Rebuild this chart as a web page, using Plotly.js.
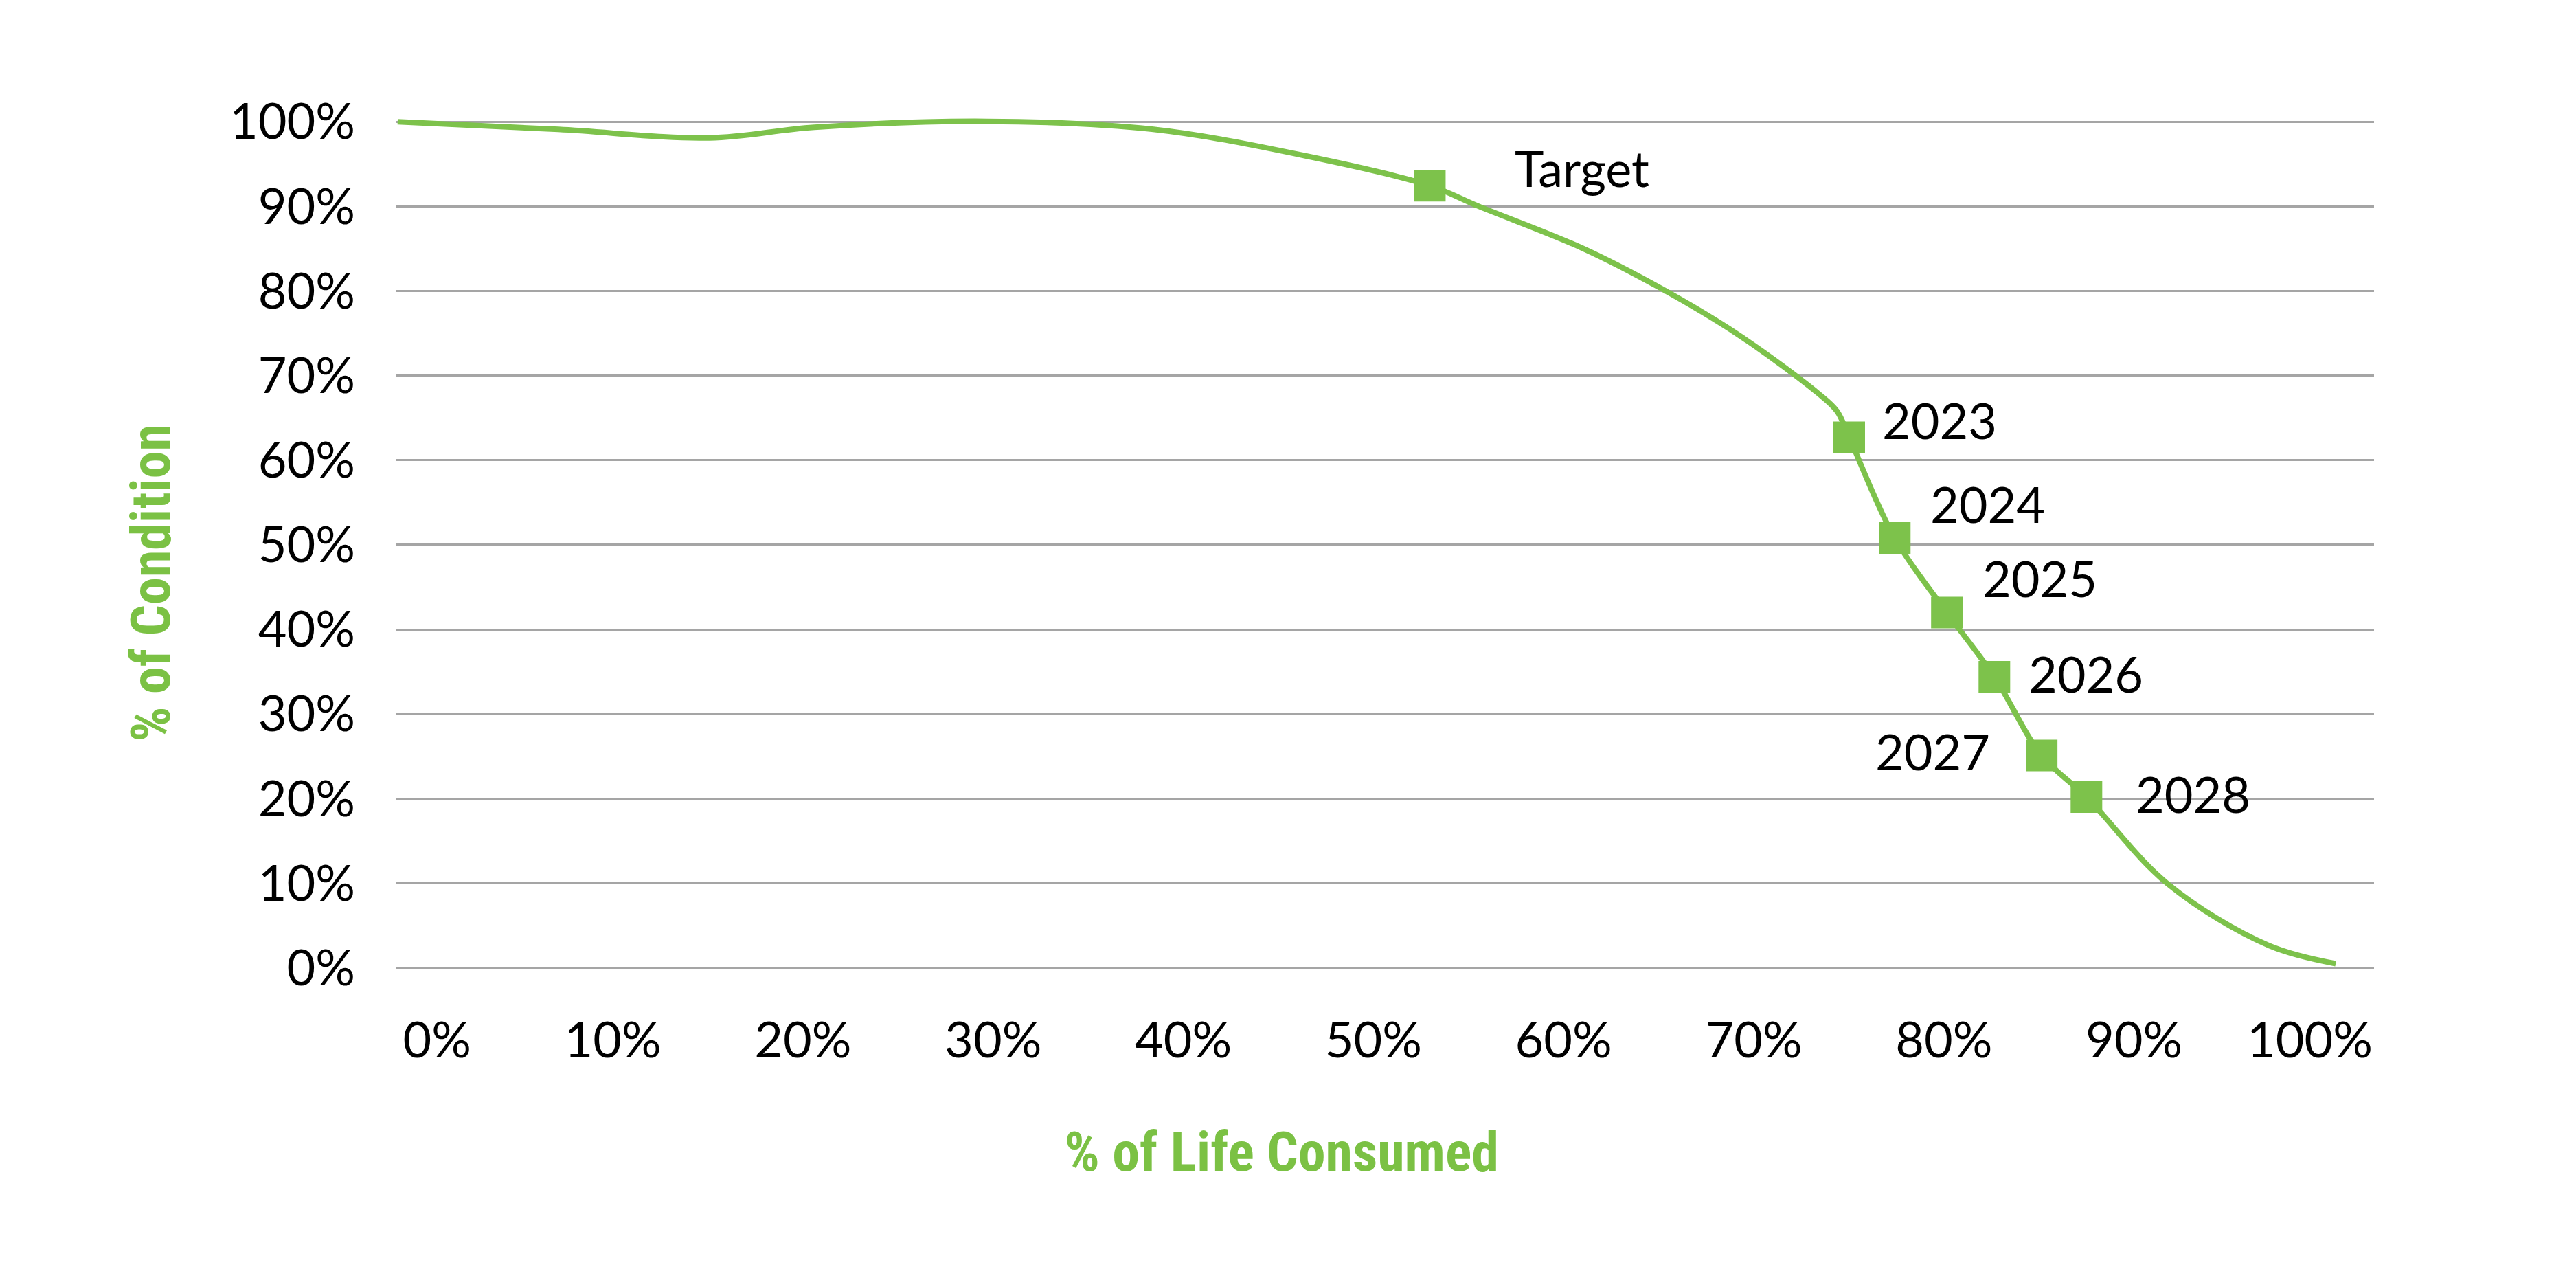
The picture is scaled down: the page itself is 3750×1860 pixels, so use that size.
<!DOCTYPE html>
<html><head><meta charset="utf-8">
<script src="https://cdn.plot.ly/plotly-3.0.1.min.js"></script>
<style>html,body{margin:0;padding:0;background:#fff}#chart{width:3750px;height:1860px}</style>
</head><body><div id="chart"></div>
<script>
// Condition curve (% of life consumed vs % of condition)
const curveX = [0, 0.083, 0.161, 0.215, 0.304, 0.39, 0.468, 0.5326, 0.558, 0.611, 0.652, 0.692, 0.733, 0.7427, 0.749, 0.7725, 0.7994, 0.8239, 0.8483, 0.8714, 0.9135, 0.965, 1.0];
const curveY = [1.0, 0.991, 0.981, 0.9935, 1.0005, 0.991, 0.960, 0.9245, 0.900, 0.851, 0.803, 0.748, 0.679, 0.658, 0.627, 0.508, 0.420, 0.344, 0.251, 0.202, 0.099, 0.027, 0.005];

// Marked points
const pointLabels = ['Target', '2023', '2024', '2025', '2026', '2027', '2028'];
const pointX = [0.5326, 0.749, 0.7725, 0.7994, 0.8239, 0.8483, 0.8714];
const pointY = [0.9245, 0.627, 0.508, 0.420, 0.344, 0.251, 0.202];

// Tick labels
const xTickVals = [0, 0.1, 0.2, 0.3, 0.4, 0.5, 0.6, 0.7, 0.8, 0.9, 1.0];
const xTickText = ['0%', '10%', '20%', '30%', '40%', '50%', '60%', '70%', '80%', '90%', '100%'];
const yTickVals = [0, 0.1, 0.2, 0.3, 0.4, 0.5, 0.6, 0.7, 0.8, 0.9, 1.0];
const yTickText = ['0%', '10%', '20%', '30%', '40%', '50%', '60%', '70%', '80%', '90%', '100%'];

const xTitle = '% of Life Consumed';
const yTitle = '% of Condition';

// label placement styles (pixels)
const labelSide = ['left', 'left', 'left', 'left', 'left', 'right', 'left'];
const labelDx = [122, 46, 50, 50, 48, -73, 70];
const labelDy = [26, 26, 50, 50, 5, 7, 5];

const GREEN = '#7DC24B';
const TITLE_GREEN = '#7BC144';
const FONT = 'Lato, "Open Sans", sans-serif';
const TITLE_FONT = 'Roboto, sans-serif';

const traces = [
  {
    x: curveX, y: curveY, type: 'scatter', mode: 'lines',
    line: {color: GREEN, width: 8, shape: 'spline', smoothing: 1},
    hoverinfo: 'skip', showlegend: false
  },
  {
    x: pointX, y: pointY, type: 'scatter', mode: 'markers',
    marker: {symbol: 'square', size: 46, color: GREEN},
    text: pointLabels, showlegend: false, cliponaxis: false
  },
  {
    x: xTickVals, y: xTickVals.map(() => null), xaxis: 'x2', type: 'scatter', mode: 'markers',
    hoverinfo: 'skip', showlegend: false
  }
];

const annotations = pointLabels.map((t, i) => ({
  x: pointX[i], y: pointY[i], xref: 'x', yref: 'y', text: t, showarrow: false,
  xanchor: labelSide[i], yanchor: 'middle', xshift: labelDx[i], yshift: labelDy[i],
  font: {family: FONT, size: 72, color: '#000'}
}));
annotations.push({
  xref: 'paper', yref: 'paper', x: 0.4479, y: -0.1977, text: xTitle, showarrow: false,
  xanchor: 'center', yanchor: 'middle', name: 'title',
  font: {family: TITLE_FONT, size: 80, color: TITLE_GREEN, weight: 'bold'}
});
annotations.push({
  xref: 'paper', yref: 'paper', x: -0.1236, y: 0.4432, text: yTitle, showarrow: false,
  textangle: -90, xanchor: 'center', yanchor: 'middle', name: 'title',
  font: {family: TITLE_FONT, size: 80, color: TITLE_GREEN, weight: 'bold'}
});

const layout = {
  width: 3750, height: 1860,
  paper_bgcolor: '#ffffff', plot_bgcolor: '#ffffff',
  margin: {l: 576, r: 294, t: 128, b: 439},
  showlegend: false,
  xaxis: {
    range: [-0.001, 1.0198], showgrid: false, zeroline: false, showline: false,
    showticklabels: false, ticks: ''
  },
  xaxis2: {
    overlaying: 'x', anchor: 'y', side: 'bottom',
    range: [-0.0397, 1.0007], tickvals: xTickVals, ticktext: xTickText,
    ticklabelposition: 'outside left', ticks: '', showgrid: false, zeroline: false, showline: false,
    ticklabelstandoff: 45,
    tickfont: {family: FONT, size: 72, color: '#000'}
  },
  yaxis: {
    range: [-0.01, 1.04], tickvals: yTickVals, ticktext: yTickText,
    showgrid: true, gridcolor: '#A5A5A5', gridwidth: 3, zeroline: false, showline: false,
    ticks: '', ticklabelstandoff: 58,
    tickfont: {family: FONT, size: 72, color: '#000'}
  },
  annotations: annotations
};

Plotly.newPlot('chart', traces, layout, {staticPlot: true, displayModeBar: false}).then(() => {
  // condensed face for the axis titles
  const texts = document.querySelectorAll('.annotation-text');
  const n = texts.length;
  [texts[n - 2], texts[n - 1]].forEach(el => { if (el) el.style.fontStretch = 'condensed'; });
});
</script></body></html>
